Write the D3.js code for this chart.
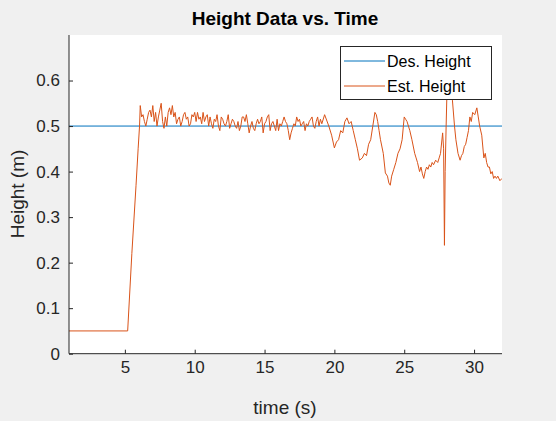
<!DOCTYPE html>
<html><head><meta charset="utf-8">
<script src="https://cdn.jsdelivr.net/npm/d3@7"></script>
<style>body{margin:0;background:#f0f0f0;}text{font-family:"Liberation Sans",Arial,sans-serif;}</style>
</head><body><svg id="c" width="556" height="421"></svg>
<script>
const desiredHeight = 0.5;
const xTicks = [5,10,15,20,25,30];
const yTicks = [0,0.1,0.2,0.3,0.4,0.5,0.6];
const riseT = [1, 5.2, 5.5, 5.8, 5.95, 6.05];
const riseH = [0.05, 0.05, 0.22, 0.37, 0.45, 0.50];
const hoverStart = 6.1;
const hoverH = [0.545,0.52,0.525,0.51,0.50,0.515,0.53,0.535,0.52,0.545,0.51,0.53,0.50,0.52,0.535,0.55,0.51,0.495,0.52,0.50,0.53,0.54,0.525,0.545,0.52,0.53,0.505,0.515,0.52,0.50,0.51,0.525,0.53,0.515,0.52,0.50,0.505,0.525,0.52,0.53,0.51,0.53,0.515,0.52,0.505,0.53,0.51,0.52,0.525,0.50,0.52,0.505,0.495,0.515,0.51,0.525,0.50,0.49,0.52,0.515,0.505,0.50,0.51,0.525,0.495,0.505,0.515,0.51,0.50,0.495,0.51,0.49,0.50,0.52,0.52,0.51,0.525,0.505,0.485,0.50,0.51,0.495,0.49,0.505,0.515,0.505,0.51,0.52,0.485,0.505,0.51,0.52,0.525,0.49,0.505,0.51,0.50,0.49,0.515,0.49,0.505,0.50,0.51,0.52,0.51,0.505,0.49,0.47,0.485,0.495,0.505,0.50,0.52,0.51,0.515,0.50,0.505,0.51,0.49,0.505,0.50,0.51,0.515,0.52,0.50,0.495,0.51,0.52,0.50,0.515];
const tailT = [19.1,19.3,19.6,19.8,20.0,20.15,20.3,20.45,20.6,20.75,20.9,21.05,21.2,21.35,21.5,21.65,21.8,22.0,22.15,22.3,22.45,22.6,22.75,22.9,23.0,23.1,23.2,23.3,23.5,23.65,23.8,23.9,24.0,24.1,24.25,24.4,24.55,24.7,24.85,25.0,25.1,25.2,25.3,25.4,25.55,25.75,25.85,25.95,26.1,26.2,26.3,26.4,26.5,26.6,26.7,26.8,26.9,27.0,27.1,27.25,27.4,27.5,27.6,27.75,27.82,27.88,27.93,28.0,28.08,28.15,28.3,28.45,28.6,28.7,28.85,29.0,29.1,29.2,29.3,29.4,29.5,29.6,29.7,29.8,29.9,30.05,30.2,30.3,30.4,30.55,30.7,30.8,30.9,31.0,31.1,31.2,31.3,31.4,31.5,31.6,31.7,31.85,32.0];
const tailH = [0.505,0.525,0.50,0.48,0.452,0.465,0.47,0.49,0.485,0.51,0.518,0.505,0.51,0.49,0.47,0.45,0.425,0.43,0.44,0.435,0.46,0.47,0.50,0.53,0.525,0.51,0.49,0.47,0.44,0.397,0.39,0.375,0.37,0.39,0.405,0.42,0.44,0.45,0.47,0.52,0.515,0.51,0.50,0.49,0.47,0.44,0.43,0.42,0.40,0.41,0.395,0.385,0.40,0.41,0.405,0.415,0.41,0.42,0.415,0.425,0.42,0.43,0.44,0.485,0.45,0.238,0.40,0.50,0.60,0.62,0.59,0.557,0.50,0.47,0.44,0.425,0.435,0.44,0.455,0.46,0.475,0.49,0.52,0.51,0.53,0.525,0.54,0.52,0.50,0.48,0.43,0.44,0.42,0.41,0.41,0.395,0.40,0.385,0.39,0.385,0.39,0.38,0.385];

const data = riseT.map((t,i)=>[t,riseH[i]])
  .concat(hoverH.map((h,i)=>[hoverStart+i*0.1,h]))
  .concat(tailT.map((t,i)=>[t,tailH[i]]));

const svg = d3.select("#c");
const m = {l:69, r:502, t:35, b:353.7};
const x = d3.scaleLinear().domain([1,32]).range([m.l,m.r]);
const y = d3.scaleLinear().domain([0,0.7]).range([m.b,m.t]);

svg.append("rect").attr("x",m.l).attr("y",m.t).attr("width",m.r-m.l).attr("height",m.b-m.t).attr("fill","#fff");
svg.append("defs").append("clipPath").attr("id","cp").append("rect")
  .attr("x",m.l).attr("y",m.t).attr("width",m.r-m.l).attr("height",m.b-m.t);

const g = svg.append("g").attr("clip-path","url(#cp)");
g.append("line").attr("x1",x(1)).attr("x2",x(32)).attr("y1",y(desiredHeight)).attr("y2",y(desiredHeight))
  .attr("stroke","#0072bd").attr("stroke-width",1);
g.append("path").datum(data).attr("fill","none").attr("stroke","#d95319").attr("stroke-width",1)
  .attr("d",d3.line().x(d=>x(d[0])).y(d=>y(d[1])));

const xa = svg.append("g").attr("transform",`translate(0,${m.b})`)
  .call(d3.axisBottom(x).tickValues(xTicks).tickSize(-4).tickPadding(7).tickFormat(d3.format("d")));
const ya = svg.append("g").attr("transform",`translate(${m.l},0)`)
  .call(d3.axisLeft(y).tickValues(yTicks).tickSize(-4).tickPadding(9).tickFormat(d=>d===0?"0":d3.format(".1f")(d)));
[xa,ya].forEach(a=>{a.selectAll("text").attr("font-size",17).attr("fill","#262626");
  a.selectAll("line,path").attr("stroke","#262626");});
ya.select(".domain").attr("d",`M0,${m.b}V${m.t}`);
xa.select(".domain").attr("d",`M${m.l},0H${m.r}`);

svg.append("text").attr("x",285).attr("y",25).attr("text-anchor","middle").attr("font-weight","bold").attr("font-size",19).text("Height Data vs. Time");
svg.append("text").attr("x",285).attr("y",414).attr("text-anchor","middle").attr("font-size",19).attr("fill","#262626").text("time (s)");
svg.append("text").attr("transform","translate(24,194) rotate(-90)").attr("text-anchor","middle").attr("font-size",19).attr("fill","#262626").text("Height (m)");

const lg = svg.append("g");
lg.append("rect").attr("x",340.5).attr("y",46.5).attr("width",151).attr("height",53).attr("fill","#fff").attr("stroke","#262626");
[["Des. Height","#0072bd",61],["Est. Height","#d95319",86]].forEach(([t,c,yy])=>{
  lg.append("line").attr("x1",344).attr("x2",385).attr("y1",yy).attr("y2",yy).attr("stroke",c);
  lg.append("text").attr("x",387).attr("y",yy+6).attr("font-size",16).attr("fill","#000").text(t);
});
</script></body></html>
